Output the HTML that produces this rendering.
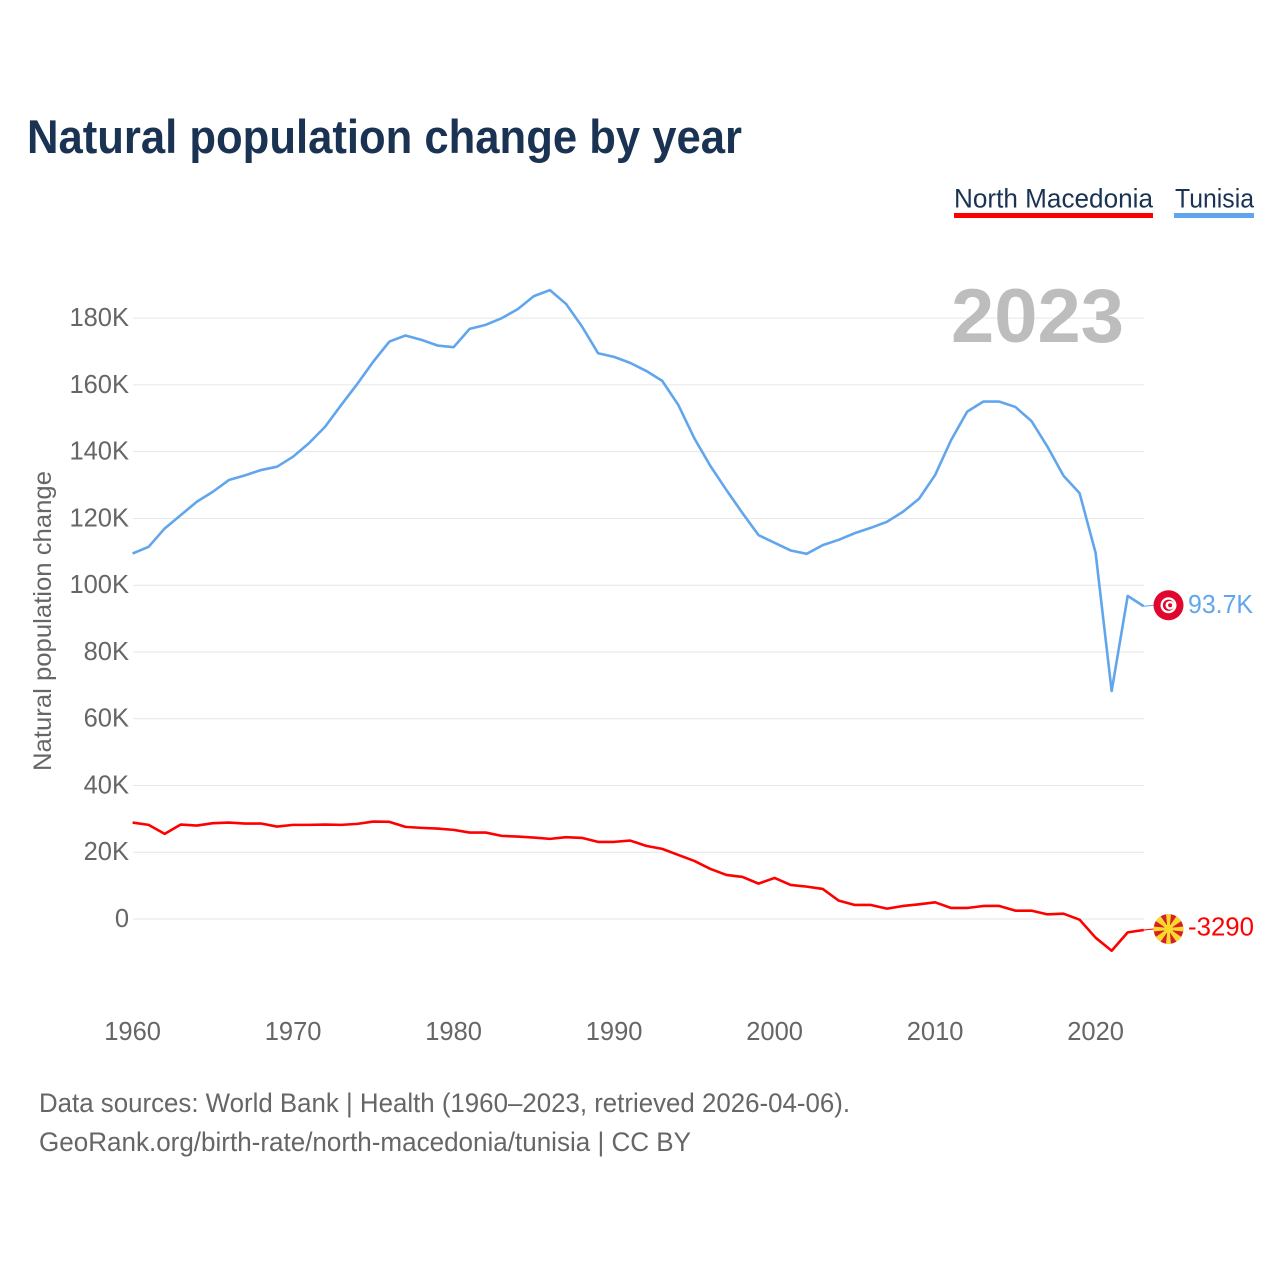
<!DOCTYPE html>
<html lang="en">
<head>
<meta charset="utf-8">
<title>Natural population change by year</title>
<style>
html,body{margin:0;padding:0;background:#fff;width:1280px;height:1280px;overflow:hidden}
svg{display:block}
text{font-family:"Liberation Sans",sans-serif}
</style>
</head>
<body>
<svg id="chart" xmlns="http://www.w3.org/2000/svg" width="1280" height="1280" viewBox="0 0 1280 1280">
  <rect width="1280" height="1280" fill="#fff"/>
  <text x="27" y="153" font-size="47" font-weight="700" fill="#1a3353" textLength="715" lengthAdjust="spacingAndGlyphs">Natural population change by year</text>

  <g>
    <g>
      <text x="954" y="207.5" font-size="26.5" fill="#1a3353" textLength="199" lengthAdjust="spacingAndGlyphs">North Macedonia</text>
      <rect x="954" y="213" width="199" height="5" fill="#ff0000"/>
    </g>
    <g>
      <text x="1175" y="207.5" font-size="26.5" fill="#1a3353" textLength="79" lengthAdjust="spacingAndGlyphs">Tunisia</text>
      <rect x="1174" y="213" width="80" height="5" fill="#61a6ed"/>
    </g>
  </g>

  <g id="grid"></g>
  <g id="yticks"></g>
  <g id="xticks"></g>

  <text transform="translate(51 621) rotate(-90)" text-anchor="middle" font-size="25" fill="#666" textLength="300" lengthAdjust="spacingAndGlyphs">Natural population change</text>

  <text x="951" y="342" font-size="76" font-weight="700" fill="#bdbdbd" textLength="173" lengthAdjust="spacingAndGlyphs">2023</text>

  <polyline id="line-mk" fill="none" stroke="#ff0000" stroke-width="2.6" stroke-linejoin="round"/>
  <polyline id="line-tn" fill="none" stroke="#61a6ed" stroke-width="2.6" stroke-linejoin="round"/>

  <line id="conn-mk" stroke="#ff0000" stroke-width="1"/>
  <line id="conn-tn" stroke="#61a6ed" stroke-width="1"/>

  <defs>
    <clipPath id="mk-clip"><circle r="15"/></clipPath>
  </defs>

  <g id="flag-tn">
    <circle r="15" fill="#e0062e"/>
    <circle r="8" fill="#fff"/>
    <circle r="5.6" fill="#e0062e"/>
    <circle cx="1.4" r="4.4" fill="#fff"/>
    <circle cx="1.6" r="2" fill="#e0062e"/>
  </g>

  <g id="flag-mk">
    <g clip-path="url(#mk-clip)">
      <circle r="15" fill="#d81e26"/>
      <g fill="#f8d92c">
        <polygon points="-1,0 1,0 2.6,-16 -2.6,-16"/>
        <polygon points="-1,0 1,0 2.6,-16 -2.6,-16" transform="rotate(90)"/>
        <polygon points="-1,0 1,0 2.6,-16 -2.6,-16" transform="rotate(180)"/>
        <polygon points="-1,0 1,0 2.6,-16 -2.6,-16" transform="rotate(270)"/>
        <polygon points="-0.8,0 0.8,0 3.8,-17 -3.8,-17" transform="rotate(45)"/>
        <polygon points="-0.8,0 0.8,0 3.8,-17 -3.8,-17" transform="rotate(135)"/>
        <polygon points="-0.8,0 0.8,0 3.8,-17 -3.8,-17" transform="rotate(225)"/>
        <polygon points="-0.8,0 0.8,0 3.8,-17 -3.8,-17" transform="rotate(315)"/>
      </g>
      <circle r="4.4" fill="#f8d92c"/>
    </g>
  </g>

  <text id="label-tn" x="1188" font-size="26" fill="#61a6ed" textLength="65" lengthAdjust="spacingAndGlyphs"></text>
  <text id="label-mk" x="1188" font-size="26" fill="#ff0000" textLength="66" lengthAdjust="spacingAndGlyphs"></text>

  <g>
    <text x="39" y="1112" font-size="26.5" fill="#666" textLength="811" lengthAdjust="spacingAndGlyphs">Data sources: World Bank | Health (1960–2023, retrieved 2026-04-06).</text>
    <text x="39" y="1151" font-size="26.5" fill="#666" textLength="652" lengthAdjust="spacingAndGlyphs">GeoRank.org/birth-rate/north-macedonia/tunisia | CC BY</text>
  </g>
</svg>

<script>
const startYear = 1960;
const yTickValues = [0, 20, 40, 60, 80, 100, 120, 140, 160, 180];
const yTickLabels = ["0", "20K", "40K", "60K", "80K", "100K", "120K", "140K", "160K", "180K"];
const xTickYears = [1960, 1970, 1980, 1990, 2000, 2010, 2020];
const tunisiaValues = [
  109.5, 111.5, 117, 121, 125, 128, 131.5, 132.9, 134.5, 135.5,
  138.5, 142.6, 147.5, 154, 160.3, 167, 173, 174.8, 173.5, 171.8,
  171.3, 176.8, 178, 180, 182.7, 186.6, 188.4, 184.3, 177.5, 169.5,
  168.4, 166.6, 164.2, 161.2, 154, 144, 135.7, 128.5, 121.6, 115,
  112.7, 110.4, 109.4, 112, 113.6, 115.6, 117.2, 119, 122, 125.9,
  133, 143.5, 152, 155, 155, 153.4, 149.2, 141.5, 132.8, 127.6,
  109.7, 68.3, 96.8, 93.7
];
const macedoniaValues = [
  28.9, 28.2, 25.5, 28.3, 28, 28.7, 28.9, 28.6, 28.6, 27.7,
  28.2, 28.2, 28.3, 28.2, 28.5, 29.2, 29.1, 27.6, 27.3, 27.1,
  26.7, 25.9, 25.9, 24.9, 24.7, 24.4, 24, 24.5, 24.3, 23.1,
  23.1, 23.5, 21.9, 21, 19.2, 17.4, 15, 13.2, 12.6, 10.6,
  12.3, 10.2, 9.7, 9, 5.5, 4.2, 4.2, 3.1, 3.9, 4.4,
  5, 3.3, 3.3, 3.9, 3.9, 2.5, 2.5, 1.4, 1.6, -0.2,
  -5.6, -9.5, -4, -3.29
];
const tunisiaEndLabel = "93.7K";
const macedoniaEndLabel = "-3290";

const SVG_NS = "http://www.w3.org/2000/svg";
function xScale(year) { return 132.6 + (year - 1960) * 16.05; }
function yScale(value) { return 919 - value * 3.338; }
function seriesPoints(values) {
  return values.map(function (v, i) {
    return xScale(startYear + i).toFixed(2) + "," + yScale(v).toFixed(2);
  }).join(" ");
}

const gridGroup = document.getElementById("grid");
const yGroup = document.getElementById("yticks");
const xGroup = document.getElementById("xticks");

yTickValues.forEach(function (v, i) {
  const gl = document.createElementNS(SVG_NS, "line");
  
  
  gl.setAttribute("x1", 133);
  gl.setAttribute("x2", 1144);
  gl.setAttribute("y1", yScale(v));
  gl.setAttribute("y2", yScale(v));
  gl.setAttribute("stroke", "#e6e6e6");
  gl.setAttribute("stroke-width", "1");
  gridGroup.appendChild(gl);

  const t = document.createElementNS(SVG_NS, "text");
  
  
  const label = yTickLabels[i];
  t.setAttribute("x", 129);
  t.setAttribute("y", yScale(v) + 8);
  t.setAttribute("text-anchor", "end");
  t.setAttribute("font-size", "25.5");
  t.setAttribute("fill", "#666");
  t.textContent = label;
  yGroup.appendChild(t);
});

xTickYears.forEach(function (year) {
  const t = document.createElementNS(SVG_NS, "text");
  
  
  t.setAttribute("x", xScale(year));
  t.setAttribute("y", 1040);
  t.setAttribute("text-anchor", "middle");
  t.setAttribute("font-size", "25.5");
  t.setAttribute("fill", "#666");
  t.textContent = String(year);
  xGroup.appendChild(t);
});

document.getElementById("line-tn").setAttribute("points", seriesPoints(tunisiaValues));
document.getElementById("line-mk").setAttribute("points", seriesPoints(macedoniaValues));

function placeEnd(code, values, text, labelOffset) {
  const last = values[values.length - 1];
  const year = startYear + values.length - 1;
  const py = yScale(last);
  const flagY = py - 1;
  const conn = document.getElementById("conn-" + code);
  conn.setAttribute("x1", xScale(year));
  conn.setAttribute("y1", py);
  conn.setAttribute("x2", 1154);
  conn.setAttribute("y2", flagY);
  document.getElementById("flag-" + code).setAttribute("transform", "translate(1168.5 " + flagY + ")");
  const lab = document.getElementById("label-" + code);
  lab.setAttribute("y", flagY + labelOffset);
  lab.textContent = text;
}
placeEnd("tn", tunisiaValues, tunisiaEndLabel, 8);
placeEnd("mk", macedoniaValues, macedoniaEndLabel, 6.5);
</script>
</body>
</html>
